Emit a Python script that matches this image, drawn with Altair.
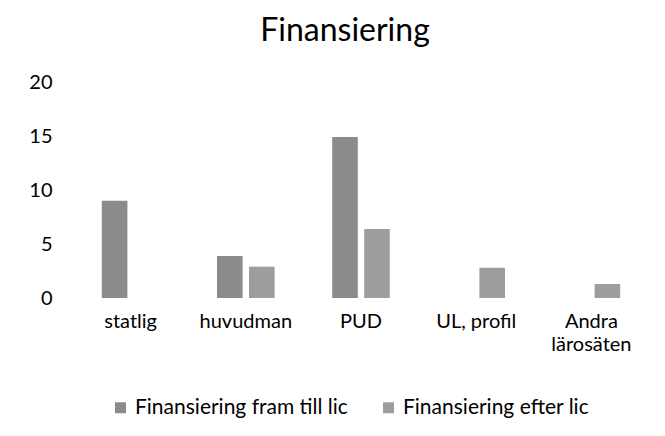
import altair as alt
import pandas as pd

categories = ["statlig", "huvudman", "PUD", "UL, profil", "Andra lärosäten"]
series = ["Finansiering fram till lic", "Finansiering efter lic"]
fram_till_lic = [9.0, 3.9, 14.9, 0.0, 0.0]
efter_lic = [0.0, 2.9, 6.4, 2.8, 1.3]
y_ticks = [0, 5, 10, 15, 20]
colors = ["#8b8b8b", "#9d9d9d"]

rows = []
for c, a, b in zip(categories, fram_till_lic, efter_lic):
    rows.append({"kategori": c, "serie": series[0], "varde": a})
    rows.append({"kategori": c, "serie": series[1], "varde": b})
df = pd.DataFrame(rows)

FONT = "Lato"

chart = alt.Chart(df).mark_bar().encode(
    x=alt.X(
        "kategori:N", sort=categories, title=None,
        scale=alt.Scale(paddingInner=0.5, paddingOuter=0.25),
        axis=alt.Axis(
            labelAngle=0, domain=False, ticks=False, labelPadding=13,
            labelFontSize=20, labelColor="#000000", labelFont=FONT,
            labelExpr="datum.label == 'Andra lärosäten' ? ['Andra', 'lärosäten'] : datum.label",
            labelLineHeight=23, labelLimit=0,
        ),
    ),
    xOffset=alt.XOffset("serie:N", sort=series, scale=alt.Scale(paddingInner=0.2)),
    y=alt.Y(
        "varde:Q", title=None, scale=alt.Scale(domain=[0, 20]),
        axis=alt.Axis(
            values=y_ticks, grid=False, domain=False, ticks=False, labelPadding=21,
            labelFontSize=20, labelColor="#000000", labelFont=FONT,
        ),
    ),
    color=alt.Color(
        "serie:N", sort=series,
        scale=alt.Scale(domain=series, range=colors),
        legend=alt.Legend(
            title=None, orient="none", direction="horizontal",
            legendX=37, legendY=315, symbolType="square", symbolSize=120,
            labelFontSize=21, labelFont=FONT, labelColor="#000000",
            columnPadding=30, symbolStrokeWidth=0, labelLimit=0,
        ),
    ),
).properties(
    width=576,
    height=216,
    title=alt.TitleParams("Finansiering", fontSize=32, font=FONT, fontWeight="normal",
                          color="#000000", anchor="middle", dx=-16, offset=24),
    padding={"left": 65, "top": 74, "right": 8, "bottom": 130},
    autosize="none",
).configure_view(stroke=None)

chart.save("out.html", embed_options={"renderer": "svg", "actions": False})
